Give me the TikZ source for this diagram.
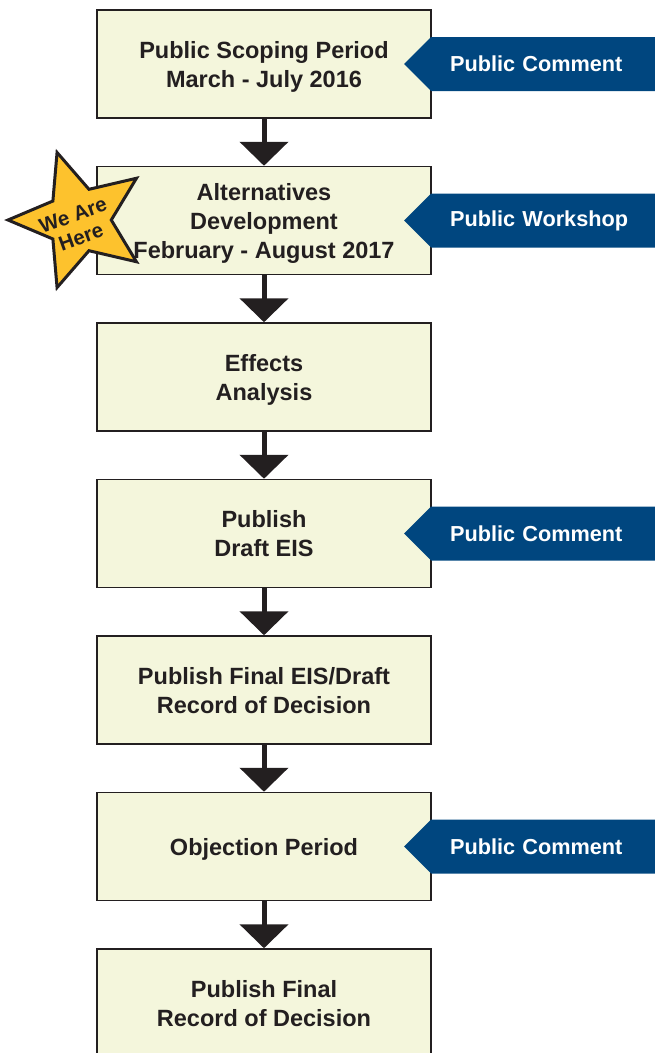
\documentclass[tikz,border=0pt]{standalone}
\usepackage{fontspec}
\setmainfont{Liberation Sans}
\usetikzlibrary{arrows.meta}
\usetikzlibrary{positioning}
\usetikzlibrary{shapes.geometric,shapes.symbols}
\definecolor{stepfill}{HTML}{F4F6DC}
\definecolor{darkline}{HTML}{231F20}
\definecolor{bannerblue}{HTML}{00467F}
\definecolor{staryellow}{HTML}{FDC22D}
\newcommand{\boxfont}{\fontsize{23.5}{29}\selectfont\bfseries}
\newcommand{\bannerfont}{\fontsize{21.7}{26}\selectfont\bfseries}
\newcommand{\starfont}{\fontsize{20.5}{23}\selectfont\bfseries}

\begin{document}
\begin{tikzpicture}[x=1pt, y=1pt, node distance=47pt,
	stepbox/.style={draw=darkline, line width=1.5pt, fill=stepfill, text=darkline,
		minimum width=334pt, minimum height=108pt, align=center, font=\boxfont,
		text depth=0pt, inner sep=0pt},
	banner/.style={shape=signal, signal to=west, signal pointer angle=90, fill=bannerblue,
		text=white, minimum width=270pt, minimum height=54pt, text width=205pt, align=left,
		font=\bannerfont, inner sep=0pt},
	flow/.style={darkline, line width=5pt, -{Triangle[width=48pt,length=24pt]}}]
	% The frame:
	\path[use as bounding box, clip] (0,0) rectangle (655,-1053);
	% Steps:
	\node[stepbox] (scoping) at (264,-64) {Public Scoping Period\\March - July 2016};
	\node[stepbox, below=of scoping] (alternatives) {Alternatives\\Development\\February - August 2017};
	\node[stepbox, below=of alternatives] (effects) {Effects\\Analysis};
	\node[stepbox, below=of effects] (draft) {Publish\\Draft EIS};
	\node[stepbox, below=of draft] (final) {Publish Final EIS/Draft\\Record of Decision};
	\node[stepbox, below=of final] (objection) {Objection Period};
	\node[stepbox, below=of objection] (decision) {Publish Final\\Record of Decision};
	% Arrows between steps:
	\foreach \from/\to in {scoping/alternatives, alternatives/effects, effects/draft,
		draft/final, final/objection, objection/decision}
		\draw[flow] (\from) -- (\to);
	% Public input:
	\node[banner, right=-28pt of scoping] (comment1) {Public Comment};
	\node[banner, right=-28pt of alternatives] (workshop) {Public Workshop};
	\node[banner, right=-28pt of draft] (comment2) {Public Comment};
	\node[banner, right=-28pt of objection] (comment3) {Public Comment};
	% We are here:
	\node[star, star points=5, star point ratio=2.2, minimum size=142pt, draw=darkline,
		line width=3pt, fill=staryellow, shape border rotate=90, inner sep=0pt] (here) at (79,-220) {};
	\node[font=\starfont, text=darkline, rotate=20, align=center, inner sep=0pt] (herelabel)
		at ([shift={(-2,-6)}]here.center) {We Are\\Here};
\end{tikzpicture}
\end{document}
